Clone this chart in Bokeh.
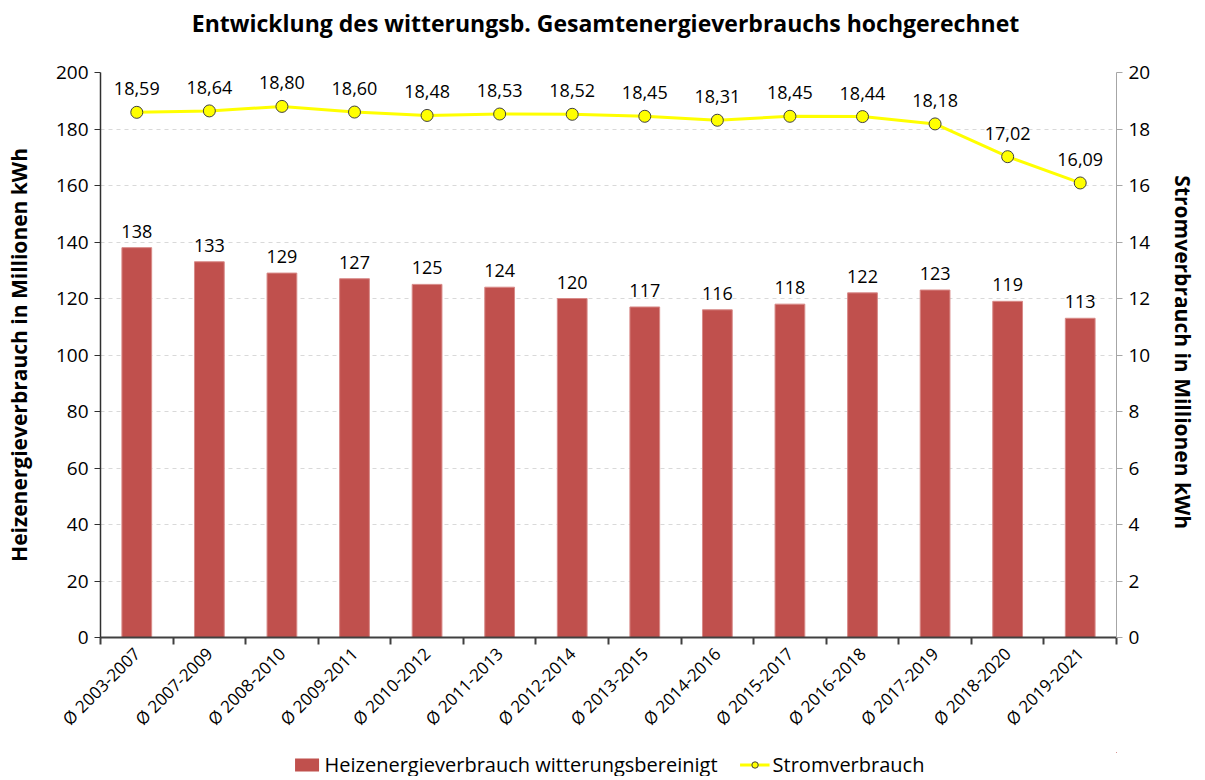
import math
from bokeh.plotting import figure
from bokeh.layouts import column
from bokeh.models import (ColumnDataSource, Range1d, LinearAxis, FixedTicker,
                          Legend, LegendItem, LabelSet, Label)
from bokeh.core.properties import value
from bokeh.embed import file_html
from bokeh.resources import INLINE

title_text = "Entwicklung des witterungsb. Gesamtenergieverbrauchs hochgerechnet"
categories = ["Ø 2003-2007", "Ø 2007-2009", "Ø 2008-2010", "Ø 2009-2011",
              "Ø 2010-2012", "Ø 2011-2013", "Ø 2012-2014", "Ø 2013-2015",
              "Ø 2014-2016", "Ø 2015-2017", "Ø 2016-2018", "Ø 2017-2019",
              "Ø 2018-2020", "Ø 2019-2021"]
heizenergie = [138, 133, 129, 127, 125, 124, 120, 117, 116, 118, 122, 123, 119, 113]
strom = [18.59, 18.64, 18.80, 18.60, 18.48, 18.53, 18.52, 18.45, 18.31, 18.45,
         18.44, 18.18, 17.02, 16.09]
left_ticks = [0, 20, 40, 60, 80, 100, 120, 140, 160, 180, 200]
right_ticks = [0, 2, 4, 6, 8, 10, 12, 14, 16, 18, 20]

FONT = "Open Sans"
BAR_COLOR = "#C0504D"
LINE_COLOR = "#FFFF00"
W = 1200

idx = list(range(len(categories)))
src = ColumnDataSource(dict(
    x=idx,
    heiz=heizenergie,
    heiz_lbl=[str(v) for v in heizenergie],
    strom=strom,
    strom_lbl=[f"{v:.2f}".replace(".", ",") for v in strom],
))

# ---- title strip (its frame is aligned with the chart's frame, left edge at 100px) ----
tf = figure(width=W, height=44, x_range=Range1d(0, 1), y_range=Range1d(0, 1),
            output_backend="svg", toolbar_location=None,
            x_axis_location=None, y_axis_location=None, min_border=0)
tf.outline_line_color = None
tf.grid.visible = False
tf.add_layout(Label(x=505, y=22, x_units="screen", y_units="screen",
                    text=title_text, text_align="center", text_baseline="middle",
                    text_font=FONT, text_font_style="bold",
                    text_font_size="23px", text_color="black"))

# ---- main chart ----
p = figure(width=W, height=708,
           x_range=Range1d(-0.5, len(categories) - 0.5),
           y_range=Range1d(0, 200),
           output_backend="svg", toolbar_location=None,
           min_border_left=100, min_border_right=83,
           min_border_top=28, min_border_bottom=115)
p.outline_line_color = None
p.background_fill_color = "white"
p.border_fill_color = "white"

p.extra_y_ranges = {"strom": Range1d(0, 20)}

# x axis
xa = p.xaxis[0]
xa.ticker = FixedTicker(ticks=idx, minor_ticks=[i - 0.5 for i in range(len(categories) + 1)])
xa.major_label_overrides = {i: c for i, c in enumerate(categories)}
xa.major_label_orientation = math.pi / 4
xa.major_tick_line_color = None
xa.minor_tick_line_color = "#404040"
xa.minor_tick_line_width = 2
xa.minor_tick_in = 0
xa.minor_tick_out = 7
xa.axis_line_color = "#404040"
xa.axis_line_width = 2
xa.major_label_text_font = FONT
xa.major_label_text_font_size = "17px"
xa.major_label_text_color = "black"
xa.major_label_standoff = 6

# left axis
ya = p.yaxis[0]
ya.ticker = FixedTicker(ticks=left_ticks)
ya.minor_tick_line_color = None
ya.major_tick_in = 0
ya.major_tick_out = 6
ya.axis_line_color = "#303030"
ya.axis_line_width = 1.5
ya.major_tick_line_color = "#303030"
ya.major_label_text_font = FONT
ya.major_label_text_font_size = "19px"
ya.major_label_text_color = "black"
ya.major_label_standoff = 6
ya.axis_label = "Heizenergieverbrauch in Millionen kWh"
ya.axis_label_text_font = FONT
ya.axis_label_text_font_style = "bold"
ya.axis_label_text_font_size = "21px"
ya.axis_label_text_color = "black"
ya.axis_label_standoff = 20

# right axis
ra = LinearAxis(y_range_name="strom", ticker=FixedTicker(ticks=right_ticks))
ra.minor_tick_line_color = None
ra.major_tick_in = 0
ra.major_tick_out = 6
ra.axis_line_color = "#A6A6A6"
ra.major_tick_line_color = "#A6A6A6"
ra.major_label_text_font = FONT
ra.major_label_text_font_size = "19px"
ra.major_label_text_color = "black"
ra.major_label_standoff = 6
ra.axis_label = "Stromverbrauch in Millionen  kWh"
ra.axis_label_text_font = FONT
ra.axis_label_text_font_style = "bold"
ra.axis_label_text_font_size = "21px"
ra.axis_label_text_color = "black"
ra.axis_label_standoff = 16
p.add_layout(ra, "right")

p.xgrid.grid_line_color = None
p.ygrid.ticker = FixedTicker(ticks=left_ticks)
p.ygrid.grid_line_color = "#D9D9D9"
p.ygrid.grid_line_dash = "4 4"

p.vbar(x="x", top="heiz", width=0.41, source=src,
       fill_color=BAR_COLOR, line_color="#D88A88", line_width=1)
p.line(x="x", y="strom", source=src, y_range_name="strom",
       line_color=LINE_COLOR, line_width=3)
p.scatter(x="x", y="strom", source=src, y_range_name="strom",
          size=12, fill_color=LINE_COLOR, line_color="#404040", line_width=1)

p.add_layout(LabelSet(x="x", y="heiz", text="heiz_lbl", source=src,
                      y_offset=10, text_align="center", text_baseline="bottom",
                      text_font=value(FONT), text_font_size="18px", text_color="black"))
p.add_layout(LabelSet(x="x", y="strom", text="strom_lbl", source=src,
                      y_range_name="strom",
                      y_offset=17, text_align="center", text_baseline="bottom",
                      text_font=value(FONT), text_font_size="18px", text_color="black"))

# ---- legend strip (its glyphs use the real data, kept out of view) ----
lf = figure(width=W, height=24, x_range=Range1d(-1001, -1000), y_range=Range1d(-1001, -1000),
            output_backend="svg", toolbar_location=None,
            x_axis_location=None, y_axis_location=None, min_border=0)
lf.outline_line_color = None
lf.grid.visible = False
lb = lf.vbar(x="x", top="heiz", width=0.41, source=src,
             fill_color=BAR_COLOR, line_color=None)
ll = lf.line(x="x", y="strom", source=src, line_color=LINE_COLOR, line_width=3)
ls = lf.scatter(x="x", y="strom", source=src, size=12,
                fill_color=LINE_COLOR, line_color="#404040", line_width=1)
legend = Legend(items=[
    LegendItem(label="Heizenergieverbrauch witterungsbereinigt", renderers=[lb]),
    LegendItem(label="Stromverbrauch", renderers=[ll, ls]),
], orientation="horizontal", location="center")
legend.border_line_color = None
legend.background_fill_alpha = 0
legend.label_text_font = FONT
legend.label_text_font_size = "20px"
legend.label_text_color = "black"
legend.glyph_width = 30
legend.glyph_height = 16
legend.spacing = 22
legend.padding = 0
legend.margin = 0
legend.label_standoff = 3
lf.add_layout(legend, "center")

layout = column(tf, p, lf, spacing=0)
open("out.html", "w").write(file_html(layout, INLINE))
